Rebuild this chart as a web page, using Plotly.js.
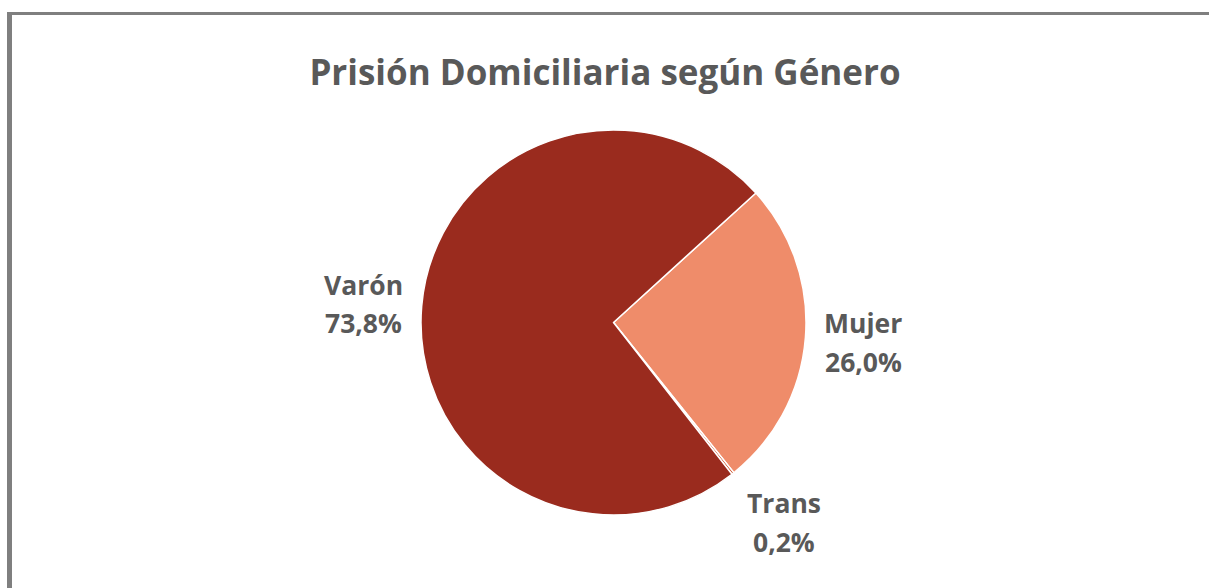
<!DOCTYPE html>
<html><head><meta charset="utf-8">
<script src="https://cdn.plot.ly/plotly-3.0.1.min.js"></script>
<style>html,body{margin:0;padding:0;background:#fff}#c{width:1209px;height:588px}</style>
</head><body><div id="c"></div>
<script>
const categories = ["Mujer", "Trans", "Varón"];
const values = [26.0, 0.2, 73.8];
const sliceColors = ["#EF8C6A", "#C9451C", "#9A2B1E"];
const titleText = "Prisión Domiciliaria según Género";

const W = 1209, H = 588;
const px = x => x / W, py = y => 1 - y / H;
const fmt = v => v.toFixed(1).replace(".", ",") + "%";

// label anchor positions (pixel centers of the two lines)
const labelPos = {"Varón": [363, 285, 323], "Mujer": [863, 323, 362], "Trans": [784, 503, 542]};

const lblFont = {family: "'Open Sans', sans-serif", size: 26.5, color: "#595959"};
const annotations = [];
categories.forEach((c, i) => {
  const p = labelPos[c];
  [[c, p[1]], [fmt(values[i]), p[2]]].forEach(([t, y]) => annotations.push({
    x: px(p[0]), y: py(y), xref: "paper", yref: "paper",
    text: "<b>" + t + "</b>", showarrow: false, font: lblFont,
    xanchor: "center", yanchor: "middle", align: "center"
  }));
});

const data = [{
  type: "pie", labels: categories, values: values, sort: false,
  direction: "clockwise", rotation: 47.7,
  marker: {colors: sliceColors, line: {color: "#ffffff", width: 1.5}},
  textinfo: "none", hoverinfo: "label+percent",
  domain: {x: [px(421), px(806)], y: [py(515), py(130)]}
}];

const layout = {
  width: W, height: H, margin: {l: 0, r: 0, t: 0, b: 0},
  paper_bgcolor: "#ffffff", showlegend: false,
  title: {text: "<b>" + titleText + "</b>", x: px(605), xanchor: "center", y: py(73), yanchor: "middle",
    font: {family: "'Open Sans', sans-serif", size: 35, color: "#595959"}},
  annotations: annotations,
  shapes: [
    {type: "rect", xref: "paper", yref: "paper", x0: px(7), x1: 1, y0: py(15), y1: py(12), fillcolor: "#7f7f7f", line: {width: 0}},
    {type: "rect", xref: "paper", yref: "paper", x0: px(7), x1: px(12), y0: 0, y1: py(12), fillcolor: "#7f7f7f", line: {width: 0}}
  ]
};
Plotly.newPlot("c", data, layout, {displayModeBar: false, staticPlot: true});
</script></body></html>
